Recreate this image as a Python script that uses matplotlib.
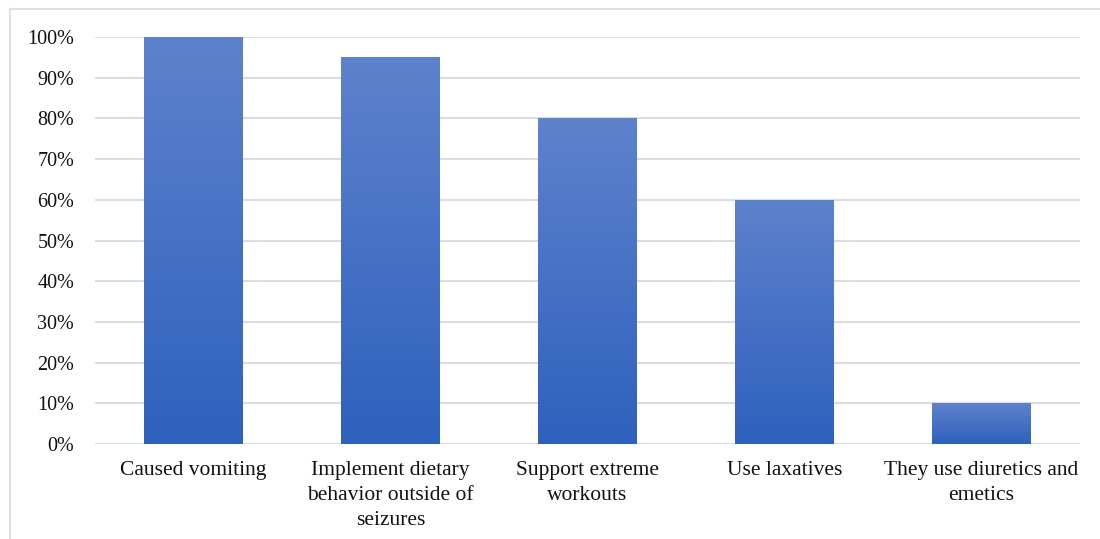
import matplotlib
matplotlib.use("Agg")
import matplotlib.pyplot as plt
import numpy as np
from matplotlib.colors import LinearSegmentedColormap
from matplotlib.lines import Line2D

categories = ["Caused vomiting",
              "Implement dietary\nbehavior outside of\nseizures",
              "Support extreme\nworkouts",
              "Use laxatives",
              "They use diuretics and\nemetics"]
values = [100, 95, 80, 60, 10]
yticks = [0, 10, 20, 30, 40, 50, 60, 70, 80, 90, 100]
ytick_labels = [f"{t}%" for t in yticks]

plt.rcParams['font.family'] = ['Liberation Serif', 'DejaVu Serif']

W, H = 1100, 539
fig = plt.figure(figsize=(W/100, H/100), dpi=100)
ax = fig.add_axes([95/W, 1 - 444/H, (1080-95)/W, (444-37)/H])

x = np.arange(len(categories))
bars = ax.bar(x, values, width=0.5, color="none", edgecolor="none", zorder=2)

cmap = LinearSegmentedColormap.from_list("g", ["#2E61BD", "#5E82CC"])
grad = np.linspace(0, 1, 256).reshape(-1, 1)
for b in bars:
    x0, y0 = b.get_x(), b.get_y()
    w, h = b.get_width(), b.get_height()
    im = ax.imshow(grad, cmap=cmap, origin="lower", aspect="auto",
                   extent=(x0, x0 + w, y0, y0 + h), zorder=2, interpolation="bilinear")
    im.set_clip_path(b)

ax.set_xlim(-0.5, len(categories) - 0.5)
ax.set_ylim(0, 100)
ax.set_yticks(yticks)
ax.set_yticklabels(ytick_labels, fontsize=14.5, color="#111111")
ax.set_xticks(x)
ax.set_xticklabels(categories, fontsize=15.5, color="#111111", linespacing=1.4, va="top")
ax.tick_params(axis="both", length=0)
ax.tick_params(axis="y", pad=15)
ax.tick_params(axis="x", pad=12.5)
ax.yaxis.grid(True, color="#D9DDE3", linewidth=1.5, zorder=0)
ax.set_axisbelow(True)
for s in ax.spines.values():
    s.set_visible(False)

# outer frame (top and left visible)
fig.add_artist(Line2D([9.5/W, 1.0], [1 - 8.5/H, 1 - 8.5/H], color="#DDE1E6", linewidth=1.5, transform=fig.transFigure))
fig.add_artist(Line2D([9.5/W, 9.5/W], [0.0, 1 - 8.5/H], color="#DDE1E6", linewidth=1.5, transform=fig.transFigure))

fig.savefig("out.png", dpi=100)
